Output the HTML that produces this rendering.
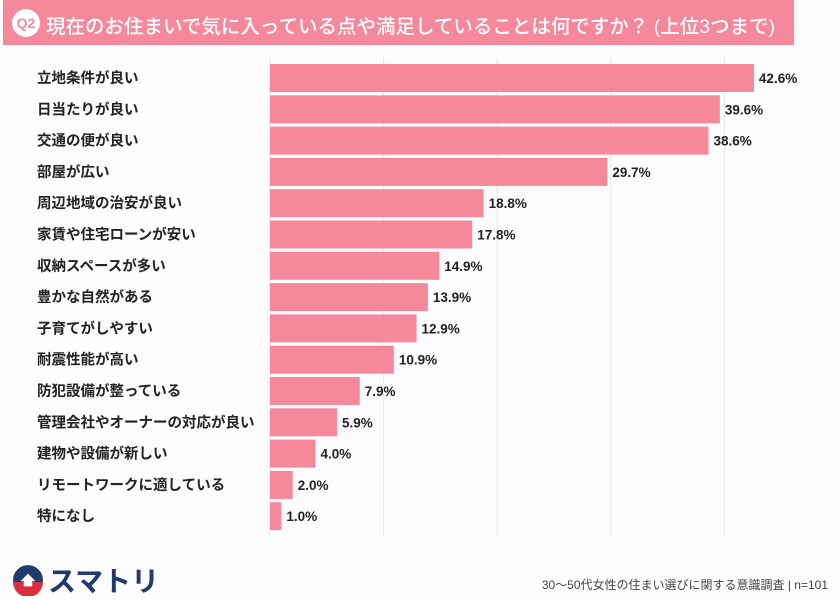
<!DOCTYPE html>
<html><head><meta charset="utf-8"><style>
body{margin:0;width:840px;height:600px;background:#fdfcfc;font-family:"Liberation Sans","Noto Sans CJK JP",sans-serif;overflow:hidden;position:relative}
#hdr{position:absolute;left:3px;top:0;width:791px;height:45px;background:#f5899b}
#q{position:absolute;left:9px;top:9px;width:28px;height:28px;border-radius:50%;background:#fff;color:#f5899b;font-weight:bold;font-size:14px;text-align:center;line-height:28px}
#title{position:absolute;left:43px;top:10px;color:#fff;font-size:19.5px;font-weight:500;white-space:nowrap}
#foot{position:absolute;right:12px;top:576px;font-size:12px;color:#444}
#logo{position:absolute;left:12px;top:560px;font-size:28px;font-weight:bold;color:#1f3a6b;display:flex;align-items:center;gap:4px}
</style></head><body>
<div id="hdr"><div id="q">Q2</div><div id="title">現在のお住まいで気に入っている点や満足していることは何ですか？ (上位3つまで)</div></div>
<svg id="chart" width="840" height="600" style="position:absolute;left:0;top:0"></svg>
<div id="logo"><svg width="32" height="32" viewBox="0 0 30 30"><circle cx="15" cy="15" r="14" fill="#1f3a6b"/><path d="M1 17 A14 14 0 0 0 29 17 Z" fill="#d9313c"/><path d="M8 16 L15 9 L22 16 L19 16 L19 21 L11 21 L11 16Z" fill="#fff"/></svg><span>スマトリ</span></div>
<div id="foot">30〜50代女性の住まい選びに関する意識調査 | n=101</div>
<script>
const categories=["立地条件が良い","日当たりが良い","交通の便が良い","部屋が広い","周辺地域の治安が良い","家賃や住宅ローンが安い","収納スペースが多い","豊かな自然がある","子育てがしやすい","耐震性能が高い","防犯設備が整っている","管理会社やオーナーの対応が良い","建物や設備が新しい","リモートワークに適している","特になし"];
const values=[42.6,39.6,38.6,29.7,18.8,17.8,14.9,13.9,12.9,10.9,7.9,5.9,4.0,2.0,1.0];
const gridTicks=[0,10,20,30,40];
const NS="http://www.w3.org/2000/svg";
const svg=document.getElementById('chart');
const x0=270,pxPer=11.36,y0=64,pitch=31.3,bh=28;
const xs=v=>x0+v*pxPer, ys=i=>y0+i*pitch;
function mk(t,a){const e=document.createElementNS(NS,t);for(const k in a)e.setAttribute(k,a[k]);svg.appendChild(e);return e;}
gridTicks.forEach(t=>{const l=mk('line',{x1:xs(t),x2:xs(t),y1:58,y2:536,stroke:'#e6e6e6','stroke-width':1});

});
categories.forEach((c,i)=>{
 const lb=mk('text',{x:37,y:ys(i)+bh/2+5,'font-size':14.5,'font-weight':'bold',fill:'#222'});lb.textContent=c;
 
 
 const r=mk('rect',{x:x0,y:ys(i),width:xs(values[i])-x0,height:bh,fill:'#f5899b'});
 
 
 const v=mk('text',{x:xs(values[i])+5,y:ys(i)+bh/2+5,'font-size':13.5,'font-weight':'bold',fill:'#222'});v.textContent=values[i].toFixed(1)+'%';
 
 
});
</script>
</body></html>
